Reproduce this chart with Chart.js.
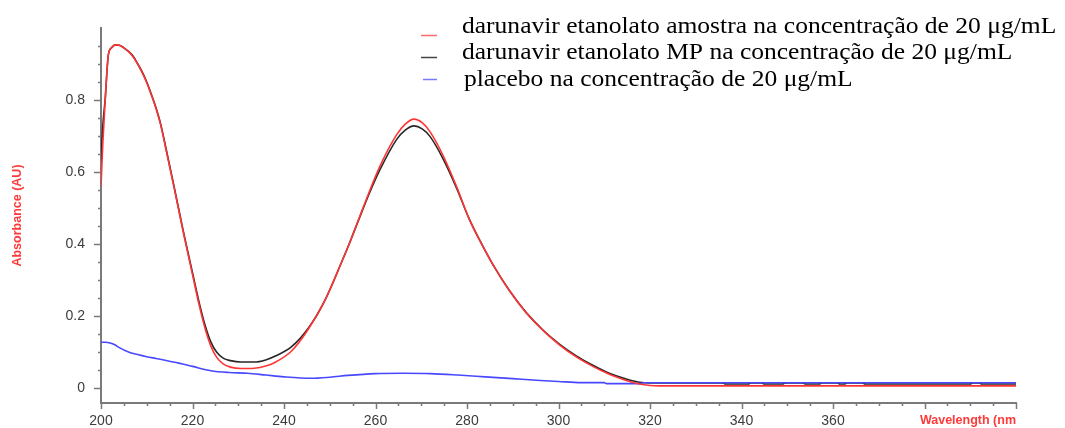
<!DOCTYPE html>
<html>
<head>
<meta charset="utf-8">
<script src="https://cdn.jsdelivr.net/npm/chart.js@4.4.1/dist/chart.umd.min.js"></script>
<style>
  html, body { margin: 0; padding: 0; background: #ffffff; }
  #wrap { width: 1065px; height: 428px; position: relative; }
</style>
</head>
<body>
<div id="wrap"><canvas id="spectrum" width="1065" height="428"></canvas></div>
<script>
// UV spectra of darunavir ethanolate (sample and reference standard) and placebo, 20 µg/mL
const seriesLabels = [
  'darunavir etanolato amostra na concentração de 20 μg/mL',
  'darunavir etanolato MP na concentração de 20 μg/mL',
  'placebo na concentração de 20 μg/mL'
];

// wavelength grid (nm) for the two darunavir spectra
const wavelengths = [
  200, 200.4, 200.9, 201.6, 202.3, 203.1, 204, 205, 206, 207, 208, 209, 210, 211, 212,
  213, 214.5, 216, 218, 220, 221.5, 222.8, 224, 225.3, 226.7, 228.3, 230.5, 233.5,
  236, 238, 241.6, 245.3, 249, 252.6, 254.4, 256.6, 258.8, 261, 264.6, 266.5, 268.4,
  270.2, 271.9, 274.8, 277.7, 280.4, 283, 285.7, 289.3, 292.9, 296.6, 300.2, 303.8,
  307.5, 311.1, 314.8, 317.7, 320, 322, 336, 336.5, 341.5, 342, 344.5, 345, 349, 349.5,
  353.5, 354, 357, 357.5, 361, 361.5, 362.5, 363, 366.5, 367, 390, 390.5, 392, 392.5, 400
];

// sample absorbance (AU)
const sampleAbs = [
  0.56, 0.68, 0.795, 0.925, 0.945, 0.953, 0.952, 0.945, 0.935, 0.92, 0.9, 0.876, 0.848, 0.814, 0.777,
  0.733, 0.645, 0.555, 0.432, 0.315, 0.228, 0.163, 0.117, 0.085, 0.067, 0.058, 0.054, 0.055,
  0.061, 0.071, 0.102, 0.163, 0.245, 0.35, 0.405, 0.478, 0.55, 0.617, 0.703, 0.733, 0.747,
  0.737, 0.712, 0.645, 0.56, 0.472, 0.405, 0.342, 0.27, 0.21, 0.16, 0.12, 0.087,
  0.06, 0.038, 0.021, 0.011, 0.007, 0.006, 0.006, 0.006, 0.006, 0.006, 0.006, 0.006, 0.006, 0.006,
  0.006, 0.006, 0.006, 0.006, 0.006, 0.006, 0.006, 0.006, 0.006, 0.006, 0.006, 0.006, 0.006, 0.006, 0.006
];

// reference standard (MP) absorbance (AU)
const standardAbs = [
  0.63, 0.73, 0.8, 0.925, 0.945, 0.953, 0.952, 0.945, 0.935, 0.922, 0.901, 0.878, 0.85, 0.816, 0.779,
  0.735, 0.648, 0.558, 0.435, 0.32, 0.235, 0.172, 0.128, 0.099, 0.083, 0.076, 0.072, 0.072,
  0.078, 0.088, 0.114, 0.166, 0.245, 0.35, 0.405, 0.476, 0.545, 0.607, 0.69, 0.716, 0.728,
  0.72, 0.699, 0.636, 0.556, 0.472, 0.405, 0.342, 0.27, 0.21, 0.161, 0.122, 0.09,
  0.063, 0.041, 0.025, 0.016, 0.014, 0.014, 0.014, 0.011, 0.011, 0.014, 0.014, 0.011, 0.011, 0.014,
  0.014, 0.011, 0.011, 0.014, 0.014, 0.011, 0.011, 0.014, 0.014, 0.011, 0.011, 0.014, 0.014, 0.011, 0.011
];

// placebo spectrum
const placeboWavelengths = [
  200, 201, 202, 203, 204, 206, 208, 210, 212, 214, 217, 220, 224, 228, 232, 236, 240,
  246, 250, 254, 260, 266, 272, 278, 284, 290, 296, 300, 305, 310, 310.5, 318, 318.5, 400
];
const placeboAbs = [
  0.127, 0.127, 0.125, 0.12, 0.112, 0.1, 0.093, 0.087, 0.082, 0.077, 0.069, 0.06, 0.048, 0.043,
  0.041, 0.036, 0.031, 0.027, 0.03, 0.035, 0.04, 0.041, 0.04, 0.036, 0.031, 0.026, 0.021, 0.018,
  0.015, 0.015, 0.012, 0.012, 0.0145, 0.0145
];

// axis tick labels
const xTickValues = [200, 220, 240, 260, 280, 300, 320, 340, 360];
const yTickValues = [0, 0.2, 0.4, 0.6, 0.8];

const toPoints = (xs, ys) => xs.map((x, i) => ({ x: x, y: ys[i] }));

const axisColor = '#7a7a7a';
const tickFont = { family: '"Liberation Sans", Arial, sans-serif', size: 14 };
const titleFont = { family: '"Liberation Sans", Arial, sans-serif', size: 12.5, weight: 'bold' };

// major/minor tick marks drawn outside the axes
const tickMarks = {
  id: 'tickMarks',
  afterDraw(chart) {
    const { ctx, scales: { x, y }, chartArea } = chart;
    ctx.save();
    ctx.strokeStyle = axisColor;
    ctx.lineWidth = 1.5;
    ctx.beginPath();
    for (let v = 200; v <= 400.001; v += 5) {
      const px = Math.round(x.getPixelForValue(v)) + 0.5;
      const len = (Math.round(v) % 20 === 0) ? 6 : 3;
      ctx.moveTo(px, chartArea.bottom);
      ctx.lineTo(px, chartArea.bottom + len);
    }
    for (let k = 0; k <= 19; k++) {
      const v = k * 0.05;
      const py = Math.round(y.getPixelForValue(v)) + 0.5;
      const len = (k % 4 === 0) ? 7 : 3;
      ctx.moveTo(chartArea.left, py);
      ctx.lineTo(chartArea.left - len, py);
    }
    ctx.stroke();
    ctx.restore();
  }
};

// legend block in the upper right, serif text
const serifLegend = {
  id: 'serifLegend',
  afterDraw(chart, args, opts) {
    const { ctx } = chart;
    ctx.save();
    ctx.font = opts.font;
    ctx.fillStyle = '#000000';
    ctx.textBaseline = 'alphabetic';
    chart.data.datasets.forEach((ds, i) => {
      const base = opts.baselines[i];
      const my = opts.markerY[i];
      ctx.strokeStyle = opts.markerColors[i];
      ctx.lineWidth = 1.5;
      ctx.beginPath();
      ctx.moveTo(opts.markerStart[i], my);
      ctx.lineTo(opts.markerEnd, my);
      ctx.stroke();
      ctx.save();
      ctx.translate(opts.textX[i], base);
      ctx.scale(opts.stretch, 1);
      ctx.fillText(ds.label, 0, 0);
      ctx.restore();
    });
    ctx.restore();
  }
};

new Chart(document.getElementById('spectrum'), {
  type: 'line',
  data: {
    datasets: [
      {
        label: seriesLabels[0],
        data: toPoints(wavelengths, sampleAbs),
        borderColor: '#ff3434',
        borderWidth: 1.6,
        order: 0
      },
      {
        label: seriesLabels[1],
        data: toPoints(wavelengths, standardAbs),
        borderColor: '#262626',
        borderWidth: 1.6,
        order: 2
      },
      {
        label: seriesLabels[2],
        data: toPoints(placeboWavelengths, placeboAbs),
        borderColor: '#4848ff',
        borderWidth: 1.6,
        order: 1
      }
    ]
  },
  options: {
    responsive: false,
    animation: false,
    devicePixelRatio: 1,
    elements: {
      point: { radius: 0 },
      line: { cubicInterpolationMode: 'monotone', fill: false }
    },
    layout: { padding: { left: 0, right: 49, top: 28, bottom: 0 } },
    plugins: {
      legend: { display: false },
      tooltip: { enabled: false },
      serifLegend: {
        font: '23px "Liberation Serif", "Times New Roman", serif',
        stretch: 1.11,
        baselines: [33, 59, 86],
        markerY: [35.5, 57.5, 79.5],
        textX: [462, 462, 464],
        markerStart: [421, 421, 423],
        markerEnd: 437,
        markerColors: ['#ff6a6a', '#444444', '#7a7aff']
      }
    },
    scales: {
      x: {
        type: 'linear',
        min: 200,
        max: 400,
        afterBuildTicks: s => { s.ticks = xTickValues.map(v => ({ value: v })); },
        afterFit: s => { s.height = 25; },
        grid: { display: true, drawOnChartArea: false, drawTicks: false },
        border: { display: true, color: axisColor, width: 2 },
        ticks: {
          padding: 10,
          autoSkip: false,
          maxRotation: 0,
          color: '#3c3c3c',
          font: tickFont,
          callback: v => String(v)
        },
        title: {
          display: true,
          text: 'Wavelength (nm',
          align: 'end',
          color: '#ff3a3a',
          font: titleFont,
          padding: { top: 0, bottom: 0 }
        }
      },
      y: {
        type: 'linear',
        min: -0.0417,
        max: 1.0,
        afterBuildTicks: s => { s.ticks = yTickValues.map(v => ({ value: v })); },
        afterFit: s => { s.width = 101; },
        grid: { display: true, drawOnChartArea: false, drawTicks: false },
        border: { display: true, color: axisColor, width: 2 },
        ticks: {
          padding: 16,
          color: '#3c3c3c',
          font: tickFont,
          callback: v => (v === 0 ? '0' : v.toFixed(1))
        },
        title: {
          display: true,
          text: 'Absorbance (AU)',
          color: '#ff3a3a',
          font: titleFont,
          padding: { top: 10, bottom: 0 }
        }
      }
    }
  },
  plugins: [tickMarks, serifLegend]
});
</script>
</body>
</html>
